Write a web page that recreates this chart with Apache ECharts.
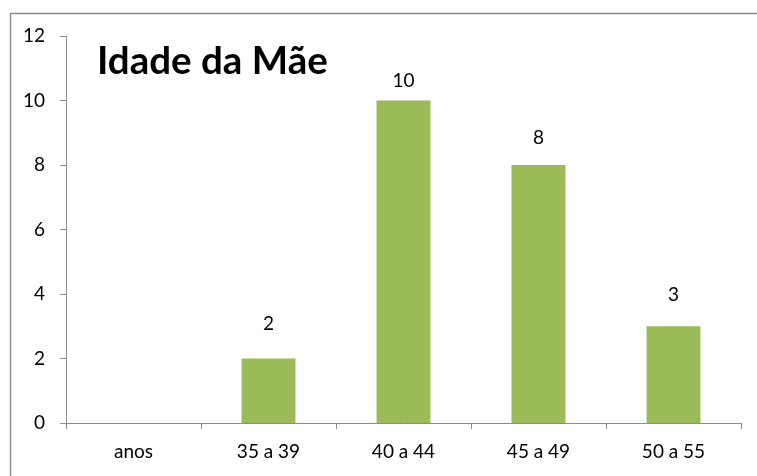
<!DOCTYPE html>
<html><head><meta charset="utf-8">
<script src="https://cdn.jsdelivr.net/npm/echarts@6/dist/echarts.min.js"></script>
<style>html,body{margin:0;padding:0;background:#fff;}#c{width:757px;height:476px;}</style>
</head><body><div id="c"></div>
<script>
const categories = ['anos', '35 a 39', '40 a 44', '45 a 49', '50 a 55'];
const counts = [null, 2, 10, 8, 3];
const yTicks = [0, 2, 4, 6, 8, 10, 12];
const titleText = 'Idade da Mãe';

const labelGaps = [0, 26, 11, 19, 23];
const FONT = 'Lato';
const FS = 19;
const chart = echarts.init(document.getElementById('c'), null, {renderer: 'canvas'});
chart.setOption({
  animation: false,
  backgroundColor: '#fff',
  graphic: [{
    type: 'rect', left: 8, top: 11, shape: {width: 800, height: 500},
    style: {fill: 'none', stroke: '#8c8c8c', lineWidth: 1.5}
  }, {
    type: 'text', left: 97, top: 42,
    style: {text: titleText, font: 'bold 38.5px ' + FONT, fill: '#000'}
  }],
  grid: {left: 66, right: 16, top: 36, bottom: 53},
  xAxis: {
    type: 'category', data: categories,
    axisLine: {lineStyle: {color: '#8c8c8c', width: 1}},
    axisTick: {show: true, length: 6, lineStyle: {color: '#8c8c8c'}},
    axisLabel: {color: '#000', fontSize: FS, fontFamily: FONT, margin: 19}
  },
  yAxis: {
    type: 'value', min: yTicks[0], max: yTicks[yTicks.length - 1], interval: 2,
    splitLine: {show: false},
    axisLine: {show: true, lineStyle: {color: '#8c8c8c', width: 1}},
    axisTick: {show: true, length: 6, lineStyle: {color: '#8c8c8c'}},
    axisLabel: {color: '#000', fontSize: FS, fontFamily: FONT, margin: 21}
  },
  series: [{
    type: 'bar', barWidth: '40%',
    itemStyle: {color: '#9BBB59'},
    data: counts.map((v, i) => ({
      value: v,
      label: {show: v !== null, position: 'top', distance: labelGaps[i] - 1,
        color: '#000', fontSize: FS, fontFamily: FONT}
    }))
  }]
});
</script></body></html>
